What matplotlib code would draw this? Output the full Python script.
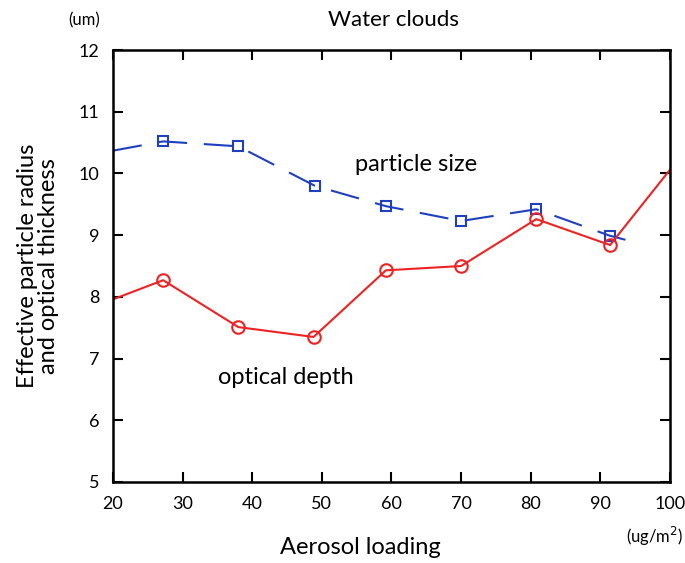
import numpy as np
import matplotlib.pyplot as plt

plt.rcParams['font.family'] = ['Lato', 'DejaVu Sans']

# particle size (blue dashed, squares); first/last points are line ends without markers
size_x = [20, 27.2, 38.0, 49.0, 59.2, 70.0, 80.8, 91.4, 95.5]
size_y = [10.37, 10.52, 10.44, 9.80, 9.47, 9.23, 9.42, 8.99, 8.87]

# optical depth (red solid, circles)
depth_x = [20, 27.2, 38.0, 48.8, 59.2, 70.0, 80.8, 91.4, 100]
depth_y = [7.96, 8.27, 7.51, 7.35, 8.43, 8.50, 9.26, 8.84, 10.06]

xticks = [20, 30, 40, 50, 60, 70, 80, 90, 100]
yticks = [5, 6, 7, 8, 9, 10, 11, 12]

fig = plt.figure(figsize=(6.85, 5.63), dpi=100)
ax = fig.add_axes([0.165, 0.144, 0.813, 0.767])

ax.plot(size_x, size_y, color='#1f3fbf', linestyle=(0, (14, 8)), linewidth=1.5,
        marker='s', markersize=7, markerfacecolor='none', markeredgewidth=1.5,
        markevery=list(range(1, len(size_x) - 1)))
ax.plot(depth_x, depth_y, color='#ee2222', linestyle='-', linewidth=1.5,
        marker='o', markersize=9, markerfacecolor='none', markeredgewidth=1.5,
        markevery=list(range(1, len(depth_x) - 1)))

ax.set_xlim(20, 100)
ax.set_ylim(5, 12)
ax.set_xticks(xticks)
ax.set_yticks(yticks)
ax.tick_params(direction='in', length=7, width=1.5, labelsize=13,
               top=True, right=True, pad=10)
for s in ax.spines.values():
    s.set_linewidth(1.8)

fig.text(393 / 685, 1 - 20 / 563, 'Water clouds', ha='center', va='center',
         fontsize=16)
fig.text(84 / 685, 1 - 20 / 563, '(um)', ha='center', va='center', fontsize=12)
fig.text(683 / 685, 1 - 536 / 563, '(ug/m$^2$)', ha='right', va='center',
         fontsize=12)

ax.text(54.8, 10.14, 'particle size', fontsize=17, va='center', ha='left')
ax.text(35.1, 6.7, 'optical depth', fontsize=17, va='center', ha='left')

fig.text(360 / 685, 1 - 548 / 563, 'Aerosol loading', ha='center',
         va='center', fontsize=17)
ax.set_ylabel('Effective particle radius\nand optical thickness', fontsize=17,
              labelpad=14, linespacing=1.0)

fig.savefig('out.png', dpi=100)
